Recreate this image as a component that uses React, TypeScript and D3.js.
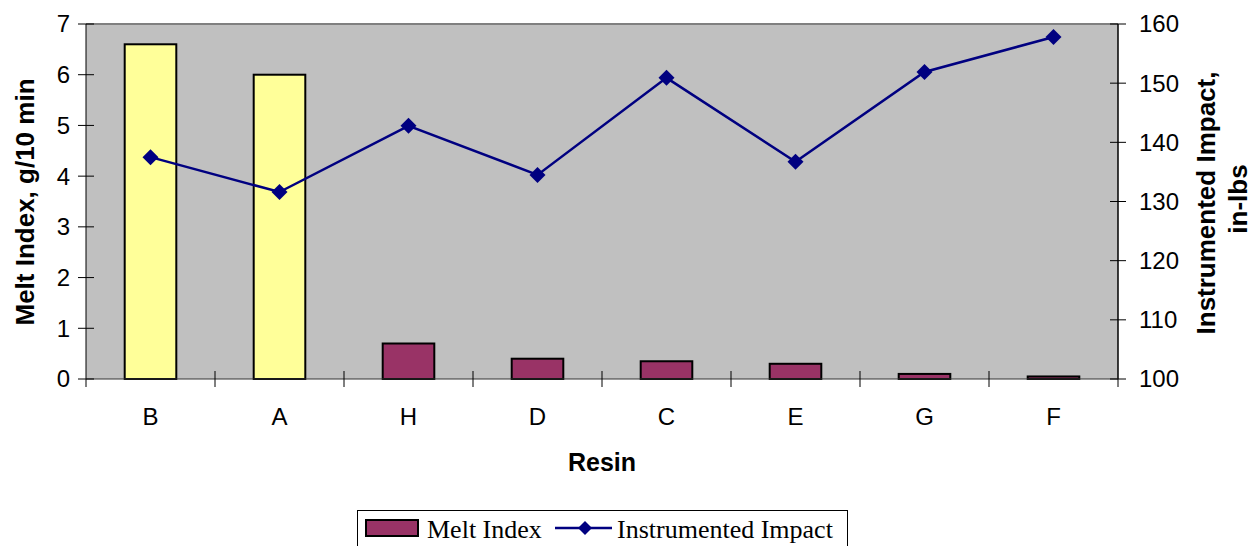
import React from 'react';
import * as d3 from 'd3';

const resins = ['B', 'A', 'H', 'D', 'C', 'E', 'G', 'F'];
const meltIndex = [6.6, 6.0, 0.7, 0.4, 0.35, 0.3, 0.1, 0.05];
const impact = [137.5, 131.6, 142.8, 134.5, 150.9, 136.7, 151.9, 157.8];
const highlighted = ['B', 'A'];
const leftTicks = [0, 1, 2, 3, 4, 5, 6, 7];
const rightTicks = [100, 110, 120, 130, 140, 150, 160];

const App: React.FC = () => {
  const width = 1258;
  const height = 546;
  const margin = { top: 24, right: 140, bottom: 167, left: 86 };
  const x0 = margin.left;
  const x1 = width - margin.right;
  const y0 = height - margin.bottom;
  const y1 = margin.top;

  const x = d3.scaleBand().domain(resins).range([x0, x1]).paddingInner(0).paddingOuter(0);
  const yL = d3.scaleLinear().domain([0, 7]).range([y0, y1]);
  const yR = d3.scaleLinear().domain([100, 160]).range([y0, y1]);
  const barW = x.bandwidth() * 0.4;

  const line = d3
    .line<number>()
    .x((_, i) => x(resins[i])! + x.bandwidth() / 2)
    .y((d) => yR(d));

  const diamond = (cx: number, cy: number, r: number) =>
    `M${cx},${cy - r}L${cx + r},${cy}L${cx},${cy + r}L${cx - r},${cy}Z`;

  const sans = 'Arial, "Liberation Sans", sans-serif';
  const serif = '"Times New Roman", "Liberation Serif", serif';

  return (
    <svg width={width} height={height} style={{ position: 'absolute', left: 0, top: 0 }}>
      <rect x={0} y={0} width={width} height={height} fill="#fff" />
      <rect x={x0} y={y1} width={x1 - x0} height={y0 - y1} fill="#C0C0C0" />
      <line x1={x0} x2={x1} y1={y1} y2={y1} stroke="#808080" strokeWidth={2} />

      {resins.map((r, i) => {
        const cx = x(r)! + x.bandwidth() / 2;
        const yt = yL(meltIndex[i]);
        return (
          <rect
            key={r}
            x={cx - barW / 2}
            y={yt}
            width={barW}
            height={y0 - yt}
            fill={highlighted.includes(r) ? '#FFFF99' : '#993366'}
            stroke="#000"
            strokeWidth={2}
          />
        );
      })}

      {/* axes */}
      <line x1={x0} x2={x0} y1={y1} y2={y0} stroke="#000" strokeWidth={1} />
      <line x1={x1} x2={x1} y1={y1} y2={y0} stroke="#000" strokeWidth={1.5} />
      <line x1={x0} x2={x1} y1={y0} y2={y0} stroke="#333" strokeWidth={1} />

      {leftTicks.map((t) => (
        <g key={'l' + t}>
          <line x1={x0 - 8} x2={x0 + 8} y1={yL(t)} y2={yL(t)} stroke="#000" strokeWidth={1} />
          <text x={x0 - 16} y={yL(t)} dy="0.35em" textAnchor="end" fontFamily={sans} fontSize={24}>
            {t}
          </text>
        </g>
      ))}
      {rightTicks.map((t) => (
        <g key={'r' + t}>
          <line x1={x1 - 8} x2={x1 + 8} y1={yR(t)} y2={yR(t)} stroke="#000" strokeWidth={1} />
          <text x={x1 + 21} y={yR(t)} dy="0.35em" textAnchor="start" fontFamily={sans} fontSize={24}>
            {t}
          </text>
        </g>
      ))}
      {resins.map((r, i) => (
        <g key={'x' + r}>
          {i > 0 && <line x1={x(r)!} x2={x(r)!} y1={y0 - 8} y2={y0 + 8} stroke="#000" strokeWidth={1} />}
          <text x={x(r)! + x.bandwidth() / 2} y={417} dy="0.35em" textAnchor="middle" fontFamily={sans} fontSize={24}>
            {r}
          </text>
        </g>
      ))}
      <line x1={x0} x2={x0} y1={y0} y2={y0 + 8} stroke="#000" strokeWidth={1} />
      <line x1={x1} x2={x1} y1={y0} y2={y0 + 8} stroke="#000" strokeWidth={1} />

      {/* impact line */}
      <path d={line(impact)!} fill="none" stroke="#000080" strokeWidth={2.5} />
      {impact.map((v, i) => (
        <path key={'d' + i} d={diamond(x(resins[i])! + x.bandwidth() / 2, yR(v), 8)} fill="#000080" />
      ))}

      {/* axis titles */}
      <text
        transform="translate(25,202) rotate(-90)"
        dy="0.35em"
        textAnchor="middle"
        fontFamily={sans}
        fontWeight="bold"
        fontSize={26}
      >
        Melt Index, g/10 min
      </text>
      <text
        transform="translate(1206,203) rotate(-90)"
        dy="0.35em"
        textAnchor="middle"
        fontFamily={sans}
        fontWeight="bold"
        fontSize={26}
      >
        Instrumented Impact,
      </text>
      <text
        transform="translate(1238,199) rotate(-90)"
        dy="0.35em"
        textAnchor="middle"
        fontFamily={sans}
        fontWeight="bold"
        fontSize={26}
      >
        in-lbs
      </text>
      <text x={(x0 + x1) / 2} y={462} dy="0.35em" textAnchor="middle" fontFamily={sans} fontWeight="bold" fontSize={25}>
        Resin
      </text>

      {/* legend */}
      <rect x={357.5} y={510.5} width={490} height={50} fill="#fff" stroke="#000" strokeWidth={1} />
      <rect x={366} y={520} width={52} height={16} fill="#993366" stroke="#000" strokeWidth={2} />
      <text x={427} y={529} dy="0.35em" fontFamily={serif} fontSize={26}>
        Melt Index
      </text>
      <line x1={555} x2={612} y1={528} y2={528} stroke="#000080" strokeWidth={2.5} />
      <path d={diamond(585, 528, 7)} fill="#000080" />
      <text x={617} y={529} dy="0.35em" fontFamily={serif} fontSize={26}>
        Instrumented Impact
      </text>
    </svg>
  );
};

export default App;
